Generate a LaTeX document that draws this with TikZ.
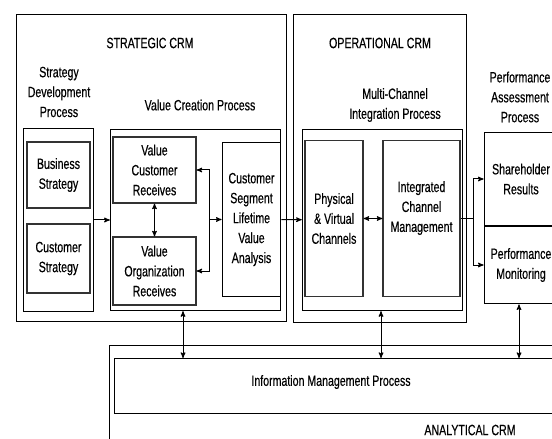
\documentclass[tikz,border=0pt]{standalone}
\usepackage{fontspec}
\setmainfont{Liberation Sans}[FakeStretch=0.71,FakeBold=0.4]
\usetikzlibrary{arrows}

\begin{document}
\begin{tikzpicture}[x=1bp,y=-1bp,>=stealth',line width=1bp,
every node/.style={font=\fontsize{15}{20}\selectfont,align=center,inner sep=0pt},
outer/.style={draw,rectangle,line width=1.3bp},
group/.style={draw,rectangle,line width=1.1bp},
sub/.style={draw=black!80,rectangle,line width=1.4bp}]

\clip (0,0) rectangle (552,439);

% the three CRM areas
\node[outer,minimum width=271,minimum height=308] (scrm) at (151.5,168) {};
\node[outer,minimum width=174,minimum height=309] (ocrm) at (380,168.5) {};
\node[outer,minimum width=461,minimum height=115,anchor=north west] (acrm) at (109,345) {};

\node (scrmlbl) at (150,43) {STRATEGIC CRM};
\node (ocrmlbl) at (380,43) {OPERATIONAL CRM};
\node (acrmlbl) at (470,430) {ANALYTICAL CRM};

% process headings
\node (sdplbl) at (59,92) {Strategy\\Development\\Process};
\node (vcplbl) at (200,105) {Value Creation Process};
\node (mciplbl) at (395,105) {Multi-Channel\\Integration Process};
\node (paplbl) at (520,97) {Performance\\Assessment\\Process};

% process boxes
\node[group,minimum width=71,minimum height=184] (sdp) at (58.5,220) {};
\node[group,minimum width=171,minimum height=182] (vcp) at (195.5,220) {};
\node[group,minimum width=161,minimum height=182] (mcip) at (382.5,220) {};

\node[sub,minimum width=63,minimum height=66] (bstrat) at (58.5,175) {Business\\Strategy};
\node[sub,minimum width=63,minimum height=69] (cstrat) at (58.5,258.5) {Customer\\Strategy};
\node[sub,minimum width=83,minimum height=66] (vcr) at (154.5,170) {Value\\Customer\\Receives};
\node[sub,minimum width=83,minimum height=68] (vor) at (154.5,271) {Value\\Organization\\Receives};
\node[group,minimum width=59,minimum height=155] (cslva) at (251.5,219.5) {Customer\\Segment\\Lifetime\\Value\\Analysis};
\node[sub,minimum width=58,minimum height=157] (pvc) at (334,218.5) {Physical\\\& Virtual\\Channels};
\node[sub,minimum width=77,minimum height=157] (icm) at (421.5,218.5) {Integrated\\Channel\\Management\\[4bp]};
\node[group,minimum width=74,minimum height=94] (shr) at (521,179) {Shareholder\\Results};
\node[group,minimum width=74,minimum height=78] (pmon) at (521,265) {Performance\\Monitoring};

\node[group,minimum width=456,minimum height=55,anchor=north west] (info) at (114,358) {};
\node (infolbl) at (331,382) {Information Management Process};

% connector points
\coordinate (brk) at (209,219.5);
\coordinate (split) at (473,218.5);
\coordinate (ia) at (183,0);
\coordinate (ib) at (381,0);
\coordinate (ic) at (519,0);

\draw[->] (sdp) -- (vcp);
\draw[<->] (vcr) -- (vor);
\draw[<->] (vcr) -- (vcr -| brk) |- (vor);
\draw[->] (brk) -- (cslva);
\draw[->] (cslva) -- (mcip);
\draw[<->] (pvc) -- (icm);
\draw (icm) -- (split);
\draw[->] (split) |- (shr);
\draw[->] (split) |- (pmon);
\draw[<->] (vcp.south -| ia) -- (info.north -| ia);
\draw[<->] (mcip.south -| ib) -- (info.north -| ib);
\draw[<->] (pmon.south -| ic) -- (info.north -| ic);
\end{tikzpicture}
\end{document}
